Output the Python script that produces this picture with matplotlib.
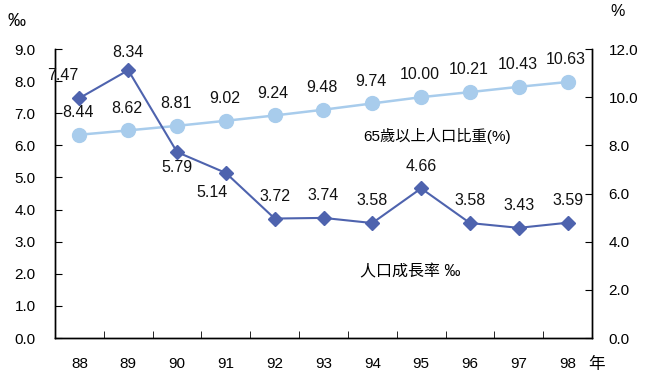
import numpy as np
import matplotlib.pyplot as plt

plt.rcParams['font.family'] = ['Liberation Sans', 'Noto Sans CJK TC', 'DejaVu Sans']

years = ['88', '89', '90', '91', '92', '93', '94', '95', '96', '97', '98']
growth = [7.47, 8.34, 5.79, 5.14, 3.72, 3.74, 3.58, 4.66, 3.58, 3.43, 3.59]
elderly = [8.44, 8.62, 8.81, 9.02, 9.24, 9.48, 9.74, 10.00, 10.21, 10.43, 10.63]

# label placement for growth labels (dx, dy in points)
growth_offsets = [(-12, 16), (0, 13), (0, -11), (-10, -14), (0, 16), (0, 16),
                  (0, 16), (0, 16), (0, 16), (0, 16), (0, 16)]

dark = '#4E63AE'
light = '#A8CCEC'

fig = plt.figure(figsize=(6.48, 3.73), dpi=100)
ax = fig.add_axes([55 / 648, 1 - 338 / 373, (592 - 55) / 648, (338 - 49) / 373])
ax2 = ax.twinx()

x = np.arange(len(years))

ax2.plot(x, elderly, color=light, marker='o', markersize=10, linewidth=1.8, zorder=2)
ax.plot(x, growth, color=dark, marker='D', markersize=7.5, linewidth=1.5, zorder=3)
ax.set_zorder(ax2.get_zorder() + 1)
ax.patch.set_visible(False)

for i, v in enumerate(elderly):
    ax2.annotate(f'{v:.2f}', (x[i], v), xytext=(-1, 16), textcoords='offset points',
                 ha='center', va='center', fontsize=11.5, color='#111111')
for i, v in enumerate(growth):
    dx, dy = growth_offsets[i]
    ax.annotate(f'{v:.2f}', (x[i], v), xytext=(dx, dy), textcoords='offset points',
                ha='center', va='center', fontsize=11.5, color='#111111')

ax.set_xlim(-0.5, len(years) - 0.5)
ax.set_ylim(0, 9)
ax2.set_ylim(0, 12)
ax.set_yticks(np.arange(0, 9.1, 1))
ax.set_yticklabels([f'{v:.1f}' for v in np.arange(0, 9.1, 1)])
ax2.set_yticks(np.arange(0, 12.1, 2))
ax2.set_yticklabels([f'{v:.1f}' for v in np.arange(0, 12.1, 2)])

ax.set_xticks(x)
ax.set_xticklabels(years)
ax.set_xticks(np.arange(0.5, len(years) - 0.5, 1), minor=True)
ax.tick_params(axis='x', which='major', length=0, pad=14, labelsize=11)
ax.tick_params(axis='x', which='minor', direction='in', length=5)
ax.tick_params(axis='y', direction='in', length=5, labelsize=11, pad=14)
ax2.tick_params(axis='y', direction='in', length=5, labelsize=11, pad=12)

ax.spines['top'].set_visible(False)
ax2.spines['top'].set_visible(False)
for s in ['left', 'right', 'bottom']:
    ax2.spines[s].set_linewidth(1.0)
    ax.spines[s].set_linewidth(1.0)

fig.text(8 / 648, 1 - 22 / 373, '‰', fontsize=13, va='center', ha='left')
fig.text(610 / 648, 1 - 12 / 373, '%', fontsize=11.5, va='center', ha='left')
fig.text(588 / 648, 1 - 364 / 373, '年', fontsize=12, va='center', ha='left')
fig.text(363 / 648, 1 - 136 / 373, '65歲以上人口比重(%)', fontsize=11, va='center', ha='left')
fig.text(360 / 648, 1 - 272 / 373, '人口成長率 ‰', fontsize=11.5, va='center', ha='left')

fig.savefig('out.png', dpi=100)
